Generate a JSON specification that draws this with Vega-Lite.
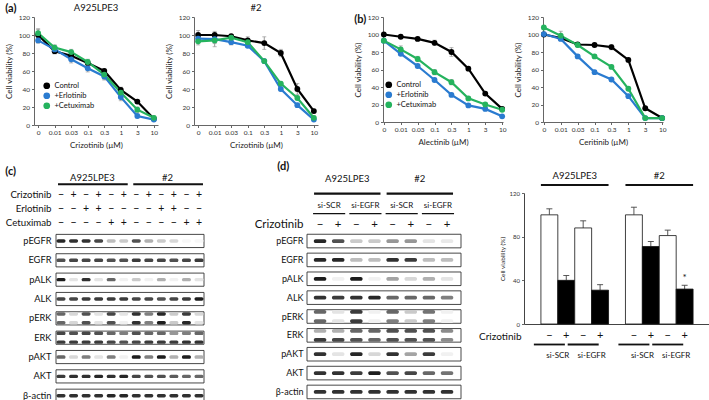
{
  "$schema": "https://vega.github.io/schema/vega-lite/v6.json",
  "padding": {"left": 4, "top": 2, "right": 0, "bottom": 0},
  "config": {
    "font": "Lato",
    "view": {"stroke": null},
    "axis": {"grid": false, "minExtent": 0, "domainColor": "#666", "tickColor": "#666", "labelColor": "#333", "titleColor": "#222", "titleFontWeight": "normal", "labelFontSize": 6.5, "titleFontSize": 8, "tickSize": 2.5, "labelPadding": 2, "titlePadding": 5},
    "title": {"fontWeight": "normal", "fontSize": 9.5, "color": "#111"},
    "legend": {"labelFontSize": 7.5, "labelColor": "#111"}
  },
  "datasets": {
    "a1": [
      {"dose":"0","series":"Control","value":100,"err":6},{"dose":"0.01","series":"Control","value":82,"err":3},{"dose":"0.03","series":"Control","value":77,"err":3},{"dose":"0.1","series":"Control","value":69,"err":3},{"dose":"0.3","series":"Control","value":60,"err":2},{"dose":"1","series":"Control","value":39,"err":2},{"dose":"3","series":"Control","value":26,"err":2},{"dose":"10","series":"Control","value":7,"err":2},
      {"dose":"0","series":"+Erlotinib","value":94,"err":3},{"dose":"0.01","series":"+Erlotinib","value":84,"err":3},{"dose":"0.03","series":"+Erlotinib","value":73,"err":4},{"dose":"0.1","series":"+Erlotinib","value":63,"err":4},{"dose":"0.3","series":"+Erlotinib","value":54,"err":3},{"dose":"1","series":"+Erlotinib","value":31,"err":4},{"dose":"3","series":"+Erlotinib","value":10,"err":2},{"dose":"10","series":"+Erlotinib","value":6,"err":1},
      {"dose":"0","series":"+Cetuximab","value":102,"err":5},{"dose":"0.01","series":"+Cetuximab","value":86,"err":3},{"dose":"0.03","series":"+Cetuximab","value":81,"err":3},{"dose":"0.1","series":"+Cetuximab","value":70,"err":3},{"dose":"0.3","series":"+Cetuximab","value":56,"err":6},{"dose":"1","series":"+Cetuximab","value":36,"err":6},{"dose":"3","series":"+Cetuximab","value":17,"err":3},{"dose":"10","series":"+Cetuximab","value":8,"err":2}
    ],
    "a2": [
      {"dose":"0","series":"Control","value":100,"err":5},{"dose":"0.01","series":"Control","value":100,"err":4},{"dose":"0.03","series":"Control","value":98.6,"err":2},{"dose":"0.1","series":"Control","value":94,"err":4},{"dose":"0.3","series":"Control","value":91,"err":7},{"dose":"1","series":"Control","value":80,"err":4},{"dose":"3","series":"Control","value":40,"err":6},{"dose":"10","series":"Control","value":15.5,"err":2},
      {"dose":"0","series":"+Erlotinib","value":96,"err":3},{"dose":"0.01","series":"+Erlotinib","value":95.5,"err":5},{"dose":"0.03","series":"+Erlotinib","value":92,"err":3},{"dose":"0.1","series":"+Erlotinib","value":88,"err":2},{"dose":"0.3","series":"+Erlotinib","value":71,"err":2},{"dose":"1","series":"+Erlotinib","value":40,"err":2},{"dose":"3","series":"+Erlotinib","value":22,"err":2},{"dose":"10","series":"+Erlotinib","value":6,"err":1},
      {"dose":"0","series":"+Cetuximab","value":93,"err":4},{"dose":"0.01","series":"+Cetuximab","value":94,"err":7},{"dose":"0.03","series":"+Cetuximab","value":97,"err":2},{"dose":"0.1","series":"+Cetuximab","value":92,"err":3},{"dose":"0.3","series":"+Cetuximab","value":71,"err":2},{"dose":"1","series":"+Cetuximab","value":46,"err":2},{"dose":"3","series":"+Cetuximab","value":30,"err":2},{"dose":"10","series":"+Cetuximab","value":8,"err":2}
    ],
    "b1": [
      {"dose":"0","series":"Control","value":100,"err":2},{"dose":"0.01","series":"Control","value":97.4,"err":2},{"dose":"0.03","series":"Control","value":95,"err":2},{"dose":"0.1","series":"Control","value":90.5,"err":3},{"dose":"0.3","series":"Control","value":80,"err":5},{"dose":"1","series":"Control","value":61,"err":2},{"dose":"3","series":"Control","value":32.5,"err":2},{"dose":"10","series":"Control","value":15,"err":2},
      {"dose":"0","series":"+Erlotinib","value":93,"err":2},{"dose":"0.01","series":"+Erlotinib","value":78,"err":2},{"dose":"0.03","series":"+Erlotinib","value":64,"err":2},{"dose":"0.1","series":"+Erlotinib","value":48,"err":2},{"dose":"0.3","series":"+Erlotinib","value":31,"err":2},{"dose":"1","series":"+Erlotinib","value":19,"err":2},{"dose":"3","series":"+Erlotinib","value":15,"err":2},{"dose":"10","series":"+Erlotinib","value":6.5,"err":1},
      {"dose":"0","series":"+Cetuximab","value":93,"err":2},{"dose":"0.01","series":"+Cetuximab","value":83,"err":4},{"dose":"0.03","series":"+Cetuximab","value":72,"err":3},{"dose":"0.1","series":"+Cetuximab","value":57,"err":3},{"dose":"0.3","series":"+Cetuximab","value":45.5,"err":3},{"dose":"1","series":"+Cetuximab","value":27,"err":2},{"dose":"3","series":"+Cetuximab","value":20,"err":2},{"dose":"10","series":"+Cetuximab","value":14,"err":2}
    ],
    "b2": [
      {"dose":"0","series":"Control","value":100,"err":2},{"dose":"0.01","series":"Control","value":96,"err":2},{"dose":"0.03","series":"Control","value":88.6,"err":2},{"dose":"0.1","series":"Control","value":88,"err":2},{"dose":"0.3","series":"Control","value":85.6,"err":3},{"dose":"1","series":"Control","value":71,"err":2},{"dose":"3","series":"Control","value":15.7,"err":2},{"dose":"10","series":"Control","value":4.5,"err":1},
      {"dose":"0","series":"+Erlotinib","value":100.5,"err":2},{"dose":"0.01","series":"+Erlotinib","value":95,"err":2},{"dose":"0.03","series":"+Erlotinib","value":75,"err":2},{"dose":"0.1","series":"+Erlotinib","value":57,"err":2},{"dose":"0.3","series":"+Erlotinib","value":48.6,"err":2},{"dose":"1","series":"+Erlotinib","value":29.5,"err":2},{"dose":"3","series":"+Erlotinib","value":4.5,"err":1},{"dose":"10","series":"+Erlotinib","value":4.5,"err":1},
      {"dose":"0","series":"+Cetuximab","value":108,"err":2},{"dose":"0.01","series":"+Cetuximab","value":98.7,"err":5},{"dose":"0.03","series":"+Cetuximab","value":88,"err":2},{"dose":"0.1","series":"+Cetuximab","value":75,"err":2},{"dose":"0.3","series":"+Cetuximab","value":63,"err":2},{"dose":"1","series":"+Cetuximab","value":38,"err":2},{"dose":"3","series":"+Cetuximab","value":4.5,"err":1},{"dose":"10","series":"+Cetuximab","value":4.5,"err":1}
    ],
    "lanesC": [
      {"lane":1,"cell":"A925LPE3","Crizotinib":"−","Erlotinib":"−","Cetuximab":"−"},
      {"lane":2,"cell":"A925LPE3","Crizotinib":"+","Erlotinib":"−","Cetuximab":"−"},
      {"lane":3,"cell":"A925LPE3","Crizotinib":"−","Erlotinib":"+","Cetuximab":"−"},
      {"lane":4,"cell":"A925LPE3","Crizotinib":"+","Erlotinib":"+","Cetuximab":"−"},
      {"lane":5,"cell":"A925LPE3","Crizotinib":"−","Erlotinib":"−","Cetuximab":"+"},
      {"lane":6,"cell":"A925LPE3","Crizotinib":"+","Erlotinib":"−","Cetuximab":"+"},
      {"lane":7,"cell":"#2","Crizotinib":"−","Erlotinib":"−","Cetuximab":"−"},
      {"lane":8,"cell":"#2","Crizotinib":"+","Erlotinib":"−","Cetuximab":"−"},
      {"lane":9,"cell":"#2","Crizotinib":"−","Erlotinib":"+","Cetuximab":"−"},
      {"lane":10,"cell":"#2","Crizotinib":"+","Erlotinib":"+","Cetuximab":"−"},
      {"lane":11,"cell":"#2","Crizotinib":"−","Erlotinib":"−","Cetuximab":"+"},
      {"lane":12,"cell":"#2","Crizotinib":"+","Erlotinib":"−","Cetuximab":"+"}
    ],
    "lanesD": [
      {"lane":1,"cell":"A925LPE3","si":"si-SCR","Crizotinib":"−"},
      {"lane":2,"cell":"A925LPE3","si":"si-SCR","Crizotinib":"+"},
      {"lane":3,"cell":"A925LPE3","si":"si-EGFR","Crizotinib":"−"},
      {"lane":4,"cell":"A925LPE3","si":"si-EGFR","Crizotinib":"+"},
      {"lane":5,"cell":"#2","si":"si-SCR","Crizotinib":"−"},
      {"lane":6,"cell":"#2","si":"si-SCR","Crizotinib":"+"},
      {"lane":7,"cell":"#2","si":"si-EGFR","Crizotinib":"−"},
      {"lane":8,"cell":"#2","si":"si-EGFR","Crizotinib":"+"}
    ],
    "bars": [
      {"cell":"A925LPE3","si":"si-SCR","crizotinib":"−","cond":"SCR−","value":100,"hi":105.5,"sig":""},
      {"cell":"A925LPE3","si":"si-SCR","crizotinib":"+","cond":"SCR+","value":40,"hi":44.5,"sig":""},
      {"cell":"A925LPE3","si":"si-EGFR","crizotinib":"−","cond":"EGFR−","value":88,"hi":94.5,"sig":""},
      {"cell":"A925LPE3","si":"si-EGFR","crizotinib":"+","cond":"EGFR+","value":31,"hi":36,"sig":""},
      {"cell":"#2","si":"si-SCR","crizotinib":"−","cond":"SCR−","value":100,"hi":107,"sig":""},
      {"cell":"#2","si":"si-SCR","crizotinib":"+","cond":"SCR+","value":71,"hi":75.5,"sig":""},
      {"cell":"#2","si":"si-EGFR","crizotinib":"−","cond":"EGFR−","value":81,"hi":86,"sig":""},
      {"cell":"#2","si":"si-EGFR","crizotinib":"+","cond":"EGFR+","value":32,"hi":35.5,"sig":"*"}
    ],
    "blotC": [
      {"lane":1,"protein":"pEGFR","band":"m","level":0.9},{"lane":2,"protein":"pEGFR","band":"m","level":0.85},{"lane":3,"protein":"pEGFR","band":"m","level":0.85},{"lane":4,"protein":"pEGFR","band":"m","level":0.75},{"lane":5,"protein":"pEGFR","band":"m","level":0.25},{"lane":6,"protein":"pEGFR","band":"m","level":0.2},{"lane":7,"protein":"pEGFR","band":"m","level":0.7},{"lane":8,"protein":"pEGFR","band":"m","level":0.3},{"lane":9,"protein":"pEGFR","band":"m","level":0.2},{"lane":10,"protein":"pEGFR","band":"m","level":0.15},{"lane":11,"protein":"pEGFR","band":"m","level":0.03},{"lane":12,"protein":"pEGFR","band":"m","level":0.03},
      {"lane":1,"protein":"EGFR","band":"m","level":0.7},{"lane":2,"protein":"EGFR","band":"m","level":0.75},{"lane":3,"protein":"EGFR","band":"m","level":0.75},{"lane":4,"protein":"EGFR","band":"m","level":0.75},{"lane":5,"protein":"EGFR","band":"m","level":0.7},{"lane":6,"protein":"EGFR","band":"m","level":0.7},{"lane":7,"protein":"EGFR","band":"m","level":0.8},{"lane":8,"protein":"EGFR","band":"m","level":0.75},{"lane":9,"protein":"EGFR","band":"m","level":0.75},{"lane":10,"protein":"EGFR","band":"m","level":0.7},{"lane":11,"protein":"EGFR","band":"m","level":0.75},{"lane":12,"protein":"EGFR","band":"m","level":0.8},
      {"lane":1,"protein":"pALK","band":"m","level":0.95},{"lane":2,"protein":"pALK","band":"m","level":0.1},{"lane":3,"protein":"pALK","band":"m","level":0.85},{"lane":4,"protein":"pALK","band":"m","level":0.1},{"lane":5,"protein":"pALK","band":"m","level":0.6},{"lane":6,"protein":"pALK","band":"m","level":0.05},{"lane":7,"protein":"pALK","band":"m","level":0.2},{"lane":8,"protein":"pALK","band":"m","level":0.05},{"lane":9,"protein":"pALK","band":"m","level":0.3},{"lane":10,"protein":"pALK","band":"m","level":0.05},{"lane":11,"protein":"pALK","band":"m","level":0.3},{"lane":12,"protein":"pALK","band":"m","level":0.1},
      {"lane":1,"protein":"ALK","band":"m","level":0.75},{"lane":2,"protein":"ALK","band":"m","level":0.75},{"lane":3,"protein":"ALK","band":"m","level":0.8},{"lane":4,"protein":"ALK","band":"m","level":0.8},{"lane":5,"protein":"ALK","band":"m","level":0.8},{"lane":6,"protein":"ALK","band":"m","level":0.8},{"lane":7,"protein":"ALK","band":"m","level":0.75},{"lane":8,"protein":"ALK","band":"m","level":0.75},{"lane":9,"protein":"ALK","band":"m","level":0.7},{"lane":10,"protein":"ALK","band":"m","level":0.75},{"lane":11,"protein":"ALK","band":"m","level":0.8},{"lane":12,"protein":"ALK","band":"m","level":0.95},
      {"lane":1,"protein":"pERK","band":"u","level":0.6},{"lane":2,"protein":"pERK","band":"u","level":0.15},{"lane":3,"protein":"pERK","band":"u","level":0.7},{"lane":4,"protein":"pERK","band":"u","level":0.1},{"lane":5,"protein":"pERK","band":"u","level":0.75},{"lane":6,"protein":"pERK","band":"u","level":0.1},{"lane":7,"protein":"pERK","band":"u","level":0.85},{"lane":8,"protein":"pERK","band":"u","level":0.5},{"lane":9,"protein":"pERK","band":"u","level":0.9},{"lane":10,"protein":"pERK","band":"u","level":0.2},{"lane":11,"protein":"pERK","band":"u","level":0.8},{"lane":12,"protein":"pERK","band":"u","level":0.15},
      {"lane":1,"protein":"pERK","band":"l","level":0.6},{"lane":2,"protein":"pERK","band":"l","level":0.15},{"lane":3,"protein":"pERK","band":"l","level":0.7},{"lane":4,"protein":"pERK","band":"l","level":0.1},{"lane":5,"protein":"pERK","band":"l","level":0.7},{"lane":6,"protein":"pERK","band":"l","level":0.05},{"lane":7,"protein":"pERK","band":"l","level":0.85},{"lane":8,"protein":"pERK","band":"l","level":0.5},{"lane":9,"protein":"pERK","band":"l","level":0.95},{"lane":10,"protein":"pERK","band":"l","level":0.2},{"lane":11,"protein":"pERK","band":"l","level":0.9},{"lane":12,"protein":"pERK","band":"l","level":0.1},
      {"lane":1,"protein":"ERK","band":"u","level":0.75},{"lane":2,"protein":"ERK","band":"u","level":0.7},{"lane":3,"protein":"ERK","band":"u","level":0.75},{"lane":4,"protein":"ERK","band":"u","level":0.7},{"lane":5,"protein":"ERK","band":"u","level":0.6},{"lane":6,"protein":"ERK","band":"u","level":0.5},{"lane":7,"protein":"ERK","band":"u","level":0.7},{"lane":8,"protein":"ERK","band":"u","level":0.6},{"lane":9,"protein":"ERK","band":"u","level":0.6},{"lane":10,"protein":"ERK","band":"u","level":0.4},{"lane":11,"protein":"ERK","band":"u","level":0.5},{"lane":12,"protein":"ERK","band":"u","level":0.6},
      {"lane":1,"protein":"ERK","band":"l","level":0.8},{"lane":2,"protein":"ERK","band":"l","level":0.8},{"lane":3,"protein":"ERK","band":"l","level":0.8},{"lane":4,"protein":"ERK","band":"l","level":0.8},{"lane":5,"protein":"ERK","band":"l","level":0.75},{"lane":6,"protein":"ERK","band":"l","level":0.7},{"lane":7,"protein":"ERK","band":"l","level":0.75},{"lane":8,"protein":"ERK","band":"l","level":0.8},{"lane":9,"protein":"ERK","band":"l","level":0.8},{"lane":10,"protein":"ERK","band":"l","level":0.8},{"lane":11,"protein":"ERK","band":"l","level":0.85},{"lane":12,"protein":"ERK","band":"l","level":0.85},
      {"lane":1,"protein":"pAKT","band":"m","level":0.6},{"lane":2,"protein":"pAKT","band":"m","level":0.15},{"lane":3,"protein":"pAKT","band":"m","level":0.5},{"lane":4,"protein":"pAKT","band":"m","level":0.1},{"lane":5,"protein":"pAKT","band":"m","level":0.5},{"lane":6,"protein":"pAKT","band":"m","level":0.05},{"lane":7,"protein":"pAKT","band":"m","level":0.95},{"lane":8,"protein":"pAKT","band":"m","level":0.5},{"lane":9,"protein":"pAKT","band":"m","level":0.95},{"lane":10,"protein":"pAKT","band":"m","level":0.3},{"lane":11,"protein":"pAKT","band":"m","level":0.95},{"lane":12,"protein":"pAKT","band":"m","level":0.3},
      {"lane":1,"protein":"AKT","band":"m","level":0.8},{"lane":2,"protein":"AKT","band":"m","level":0.85},{"lane":3,"protein":"AKT","band":"m","level":0.85},{"lane":4,"protein":"AKT","band":"m","level":0.9},{"lane":5,"protein":"AKT","band":"m","level":0.85},{"lane":6,"protein":"AKT","band":"m","level":0.9},{"lane":7,"protein":"AKT","band":"m","level":0.75},{"lane":8,"protein":"AKT","band":"m","level":0.7},{"lane":9,"protein":"AKT","band":"m","level":0.7},{"lane":10,"protein":"AKT","band":"m","level":0.65},{"lane":11,"protein":"AKT","band":"m","level":0.6},{"lane":12,"protein":"AKT","band":"m","level":0.6},
      {"lane":1,"protein":"β-actin","band":"m","level":0.85},{"lane":2,"protein":"β-actin","band":"m","level":0.85},{"lane":3,"protein":"β-actin","band":"m","level":0.85},{"lane":4,"protein":"β-actin","band":"m","level":0.85},{"lane":5,"protein":"β-actin","band":"m","level":0.9},{"lane":6,"protein":"β-actin","band":"m","level":0.9},{"lane":7,"protein":"β-actin","band":"m","level":0.85},{"lane":8,"protein":"β-actin","band":"m","level":0.85},{"lane":9,"protein":"β-actin","band":"m","level":0.85},{"lane":10,"protein":"β-actin","band":"m","level":0.85},{"lane":11,"protein":"β-actin","band":"m","level":0.85},{"lane":12,"protein":"β-actin","band":"m","level":0.85}
    ],
    "blotD": [
      {"lane":1,"protein":"pEGFR","band":"m","level":0.9},{"lane":2,"protein":"pEGFR","band":"m","level":0.7},{"lane":3,"protein":"pEGFR","band":"m","level":0.2},{"lane":4,"protein":"pEGFR","band":"m","level":0.2},{"lane":5,"protein":"pEGFR","band":"m","level":0.4},{"lane":6,"protein":"pEGFR","band":"m","level":0.4},{"lane":7,"protein":"pEGFR","band":"m","level":0.1},{"lane":8,"protein":"pEGFR","band":"m","level":0.08},
      {"lane":1,"protein":"EGFR","band":"m","level":0.9},{"lane":2,"protein":"EGFR","band":"m","level":0.9},{"lane":3,"protein":"EGFR","band":"m","level":0.25},{"lane":4,"protein":"EGFR","band":"m","level":0.25},{"lane":5,"protein":"EGFR","band":"m","level":0.85},{"lane":6,"protein":"EGFR","band":"m","level":0.8},{"lane":7,"protein":"EGFR","band":"m","level":0.25},{"lane":8,"protein":"EGFR","band":"m","level":0.25},
      {"lane":1,"protein":"pALK","band":"m","level":0.95},{"lane":2,"protein":"pALK","band":"m","level":0.05},{"lane":3,"protein":"pALK","band":"m","level":0.95},{"lane":4,"protein":"pALK","band":"m","level":0.05},{"lane":5,"protein":"pALK","band":"m","level":0.35},{"lane":6,"protein":"pALK","band":"m","level":0.15},{"lane":7,"protein":"pALK","band":"m","level":0.3},{"lane":8,"protein":"pALK","band":"m","level":0.1},
      {"lane":1,"protein":"ALK","band":"m","level":0.85},{"lane":2,"protein":"ALK","band":"m","level":0.8},{"lane":3,"protein":"ALK","band":"m","level":0.85},{"lane":4,"protein":"ALK","band":"m","level":0.9},{"lane":5,"protein":"ALK","band":"m","level":0.6},{"lane":6,"protein":"ALK","band":"m","level":0.6},{"lane":7,"protein":"ALK","band":"m","level":0.6},{"lane":8,"protein":"ALK","band":"m","level":0.5},
      {"lane":1,"protein":"pERK","band":"u","level":0.6},{"lane":2,"protein":"pERK","band":"u","level":0.1},{"lane":3,"protein":"pERK","band":"u","level":0.8},{"lane":4,"protein":"pERK","band":"u","level":0.05},{"lane":5,"protein":"pERK","band":"u","level":0.6},{"lane":6,"protein":"pERK","band":"u","level":0.2},{"lane":7,"protein":"pERK","band":"u","level":0.55},{"lane":8,"protein":"pERK","band":"u","level":0.05},
      {"lane":1,"protein":"pERK","band":"l","level":0.6},{"lane":2,"protein":"pERK","band":"l","level":0.1},{"lane":3,"protein":"pERK","band":"l","level":0.8},{"lane":4,"protein":"pERK","band":"l","level":0.05},{"lane":5,"protein":"pERK","band":"l","level":0.5},{"lane":6,"protein":"pERK","band":"l","level":0.2},{"lane":7,"protein":"pERK","band":"l","level":0.5},{"lane":8,"protein":"pERK","band":"l","level":0.05},
      {"lane":1,"protein":"ERK","band":"u","level":0.3},{"lane":2,"protein":"ERK","band":"u","level":0.3},{"lane":3,"protein":"ERK","band":"u","level":0.6},{"lane":4,"protein":"ERK","band":"u","level":0.6},{"lane":5,"protein":"ERK","band":"u","level":0.7},{"lane":6,"protein":"ERK","band":"u","level":0.7},{"lane":7,"protein":"ERK","band":"u","level":0.7},{"lane":8,"protein":"ERK","band":"u","level":0.45},
      {"lane":1,"protein":"ERK","band":"l","level":0.8},{"lane":2,"protein":"ERK","band":"l","level":0.75},{"lane":3,"protein":"ERK","band":"l","level":0.7},{"lane":4,"protein":"ERK","band":"l","level":0.6},{"lane":5,"protein":"ERK","band":"l","level":0.7},{"lane":6,"protein":"ERK","band":"l","level":0.7},{"lane":7,"protein":"ERK","band":"l","level":0.7},{"lane":8,"protein":"ERK","band":"l","level":0.45},
      {"lane":1,"protein":"pAKT","band":"m","level":0.85},{"lane":2,"protein":"pAKT","band":"m","level":0.1},{"lane":3,"protein":"pAKT","band":"m","level":0.9},{"lane":4,"protein":"pAKT","band":"m","level":0.15},{"lane":5,"protein":"pAKT","band":"m","level":0.85},{"lane":6,"protein":"pAKT","band":"m","level":0.35},{"lane":7,"protein":"pAKT","band":"m","level":0.8},{"lane":8,"protein":"pAKT","band":"m","level":0.05},
      {"lane":1,"protein":"AKT","band":"m","level":0.85},{"lane":2,"protein":"AKT","band":"m","level":0.85},{"lane":3,"protein":"AKT","band":"m","level":0.8},{"lane":4,"protein":"AKT","band":"m","level":0.95},{"lane":5,"protein":"AKT","band":"m","level":0.7},{"lane":6,"protein":"AKT","band":"m","level":0.75},{"lane":7,"protein":"AKT","band":"m","level":0.6},{"lane":8,"protein":"AKT","band":"m","level":0.55},
      {"lane":1,"protein":"β-actin","band":"m","level":0.85},{"lane":2,"protein":"β-actin","band":"m","level":0.85},{"lane":3,"protein":"β-actin","band":"m","level":0.85},{"lane":4,"protein":"β-actin","band":"m","level":0.85},{"lane":5,"protein":"β-actin","band":"m","level":0.85},{"lane":6,"protein":"β-actin","band":"m","level":0.85},{"lane":7,"protein":"β-actin","band":"m","level":0.85},{"lane":8,"protein":"β-actin","band":"m","level":0.85}
    ]
  },
  "resolve": {"scale": {"color": "independent", "fill": "independent", "xOffset": "independent", "yOffset": "independent"}, "legend": {"color": "independent"}},
  "spacing": 12,
  "vconcat": [
    {
      "resolve": {"scale": {"color": "independent", "fill": "independent"}, "legend": {"color": "independent"}},
      "spacing": 0,
      "hconcat": [
        {"width": 1, "height": 1, "data": {"values": [{}]}, "mark": {"type": "text", "text": ""}},
        {
          "resolve": {"scale": {"color": "independent", "fill": "independent"}, "legend": {"color": "independent"}},
          "spacing": 35,
          "hconcat": [
            {
              "title": {"text": "(a)", "anchor": "start", "fontSize": 11, "fontWeight": "bold", "offset": -11},
              "resolve": {"scale": {"color": "independent"}, "legend": {"color": "independent"}},
              "spacing": 6,
              "hconcat": [
                {
                  "width": 124, "height": 108,
                  "title": {"text": "A925LPE3", "offset": 2},
                  "data": {"name": "a1"},
                  "encoding": {
                    "x": {"field": "dose", "type": "ordinal", "scale": {"type": "point", "domain": ["0","0.01","0.03","0.1","0.3","1","3","10"], "padding": 0.25}, "axis": {"labelAngle": 0, "title": "Crizotinib (µM)"}},
                    "y": {"field": "value", "type": "quantitative", "scale": {"domain": [0, 120]}, "axis": {"values": [0,20,40,60,80,100,120], "title": "Cell viability (%)"}}
                  },
                  "layer": [
                    {"mark": {"type": "errorbar", "ticks": {"size": 4}, "color": "#999"}, "encoding": {"yError": {"field": "err"}, "detail": {"field": "series"}}},
                    {"mark": {"type": "line", "strokeWidth": 2.2, "point": {"filled": true, "size": 34}}, "encoding": {"color": {"field": "series", "type": "nominal", "scale": {"domain": ["Control","+Erlotinib","+Cetuximab"], "range": ["#000000","#2a7bd0","#25b35e"]}, "legend": {"title": null, "orient": "none", "legendX": 9, "legendY": 65, "symbolType": "circle", "symbolSize": 45, "symbolStrokeWidth": 0, "rowPadding": 1, "labelOffset": 4, "encode": {"symbols": {"update": {"fill": {"signal": "datum.value == 'Control' ? '#000000' : datum.value == '+Erlotinib' ? '#2a7bd0' : '#25b35e'"}, "opacity": {"value": 1}}}}}}}}
                  ]
                },
                {
                  "width": 124, "height": 108,
                  "title": {"text": "#2", "offset": 2},
                  "data": {"name": "a2"},
                  "encoding": {
                    "x": {"field": "dose", "type": "ordinal", "scale": {"type": "point", "domain": ["0","0.01","0.03","0.1","0.3","1","3","10"], "padding": 0.25}, "axis": {"labelAngle": 0, "title": "Crizotinib (µM)"}},
                    "y": {"field": "value", "type": "quantitative", "scale": {"domain": [0, 120]}, "axis": {"values": [0,20,40,60,80,100,120], "title": "Cell viability (%)"}}
                  },
                  "layer": [
                    {"mark": {"type": "errorbar", "ticks": {"size": 4}, "color": "#999"}, "encoding": {"yError": {"field": "err"}, "detail": {"field": "series"}}},
                    {"mark": {"type": "line", "strokeWidth": 2.2, "point": {"filled": true, "size": 34}}, "encoding": {"color": {"field": "series", "type": "nominal", "scale": {"domain": ["Control","+Erlotinib","+Cetuximab"], "range": ["#000000","#2a7bd0","#25b35e"]}, "legend": null}}}
                  ]
                }
              ]
            },
            {
              "title": {"text": "(b)", "anchor": "start", "fontSize": 11, "fontWeight": "bold", "offset": -11},
              "resolve": {"scale": {"color": "independent"}, "legend": {"color": "independent"}},
              "spacing": 7,
              "hconcat": [
                {
                  "width": 120, "height": 105,
                  "data": {"name": "b1"},
                  "encoding": {
                    "x": {"field": "dose", "type": "ordinal", "scale": {"type": "point", "domain": ["0","0.01","0.03","0.1","0.3","1","3","10"], "padding": 0.05}, "axis": {"labelAngle": 0, "title": "Alectinib (µM)"}},
                    "y": {"field": "value", "type": "quantitative", "scale": {"domain": [0, 120]}, "axis": {"values": [0,20,40,60,80,100,120], "title": "Cell viability (%)"}}
                  },
                  "layer": [
                    {"mark": {"type": "errorbar", "ticks": {"size": 4}, "color": "#999"}, "encoding": {"yError": {"field": "err"}, "detail": {"field": "series"}}},
                    {"mark": {"type": "line", "strokeWidth": 2.2, "point": {"filled": true, "size": 34}}, "encoding": {"color": {"field": "series", "type": "nominal", "scale": {"domain": ["Control","+Erlotinib","+Cetuximab"], "range": ["#000000","#2a7bd0","#25b35e"]}, "legend": {"title": null, "orient": "none", "legendX": 2, "legendY": 64, "symbolType": "circle", "symbolSize": 45, "symbolStrokeWidth": 0, "rowPadding": 1, "labelOffset": 4, "encode": {"symbols": {"update": {"fill": {"signal": "datum.value == 'Control' ? '#000000' : datum.value == '+Erlotinib' ? '#2a7bd0' : '#25b35e'"}, "opacity": {"value": 1}}}}}}}}
                  ]
                },
                {
                  "width": 120, "height": 105,
                  "data": {"name": "b2"},
                  "encoding": {
                    "x": {"field": "dose", "type": "ordinal", "scale": {"type": "point", "domain": ["0","0.01","0.03","0.1","0.3","1","3","10"], "padding": 0.05}, "axis": {"labelAngle": 0, "title": "Ceritinib (µM)"}},
                    "y": {"field": "value", "type": "quantitative", "scale": {"domain": [0, 120]}, "axis": {"values": [0,20,40,60,80,100,120], "title": "Cell viability (%)"}}
                  },
                  "layer": [
                    {"mark": {"type": "errorbar", "ticks": {"size": 4}, "color": "#999"}, "encoding": {"yError": {"field": "err"}, "detail": {"field": "series"}}},
                    {"mark": {"type": "line", "strokeWidth": 2.2, "point": {"filled": true, "size": 34}}, "encoding": {"color": {"field": "series", "type": "nominal", "scale": {"domain": ["Control","+Erlotinib","+Cetuximab"], "range": ["#000000","#2a7bd0","#25b35e"]}, "legend": null}}}
                  ]
                }
              ]
            }
          ]
        }
      ]
    },
    {
      "resolve": {"scale": {"color": "independent", "fill": "independent", "xOffset": "independent", "yOffset": "independent"}, "legend": {"color": "independent"}},
      "spacing": 0,
      "hconcat": [
        {"width": 1, "height": 1, "data": {"values": [{}]}, "mark": {"type": "text", "text": ""}},
        {
          "resolve": {"scale": {"color": "independent", "fill": "independent", "xOffset": "independent", "yOffset": "independent"}, "legend": {"color": "independent"}},
          "spacing": 49,
          "hconcat": [
            {
              "title": {"text": "(c)", "anchor": "start", "fontSize": 11, "fontWeight": "bold", "offset": -5},
              "resolve": {"scale": {"color": "independent", "yOffset": "independent"}},
              "spacing": 0,
              "vconcat": [
                {
                  "width": 148, "height": 60.3,
                  "layer": [
                    {
                      "data": {"name": "lanesC"},
                      "transform": [{"fold": ["Crizotinib", "Erlotinib", "Cetuximab"], "as": ["drug", "sign"]}],
                      "mark": {"type": "text", "fontSize": 10.5, "color": "#111"},
                      "encoding": {
                        "x": {"field": "lane", "type": "quantitative", "scale": {"domain": [0.6, 12.4], "nice": false, "zero": false}, "axis": null},
                        "y": {"field": "drug", "type": "nominal", "scale": {"domain": ["cell", "Crizotinib", "Erlotinib", "Cetuximab"], "paddingInner": 0, "paddingOuter": 0.2}, "axis": {"title": null, "domain": false, "ticks": false, "labelFontSize": 9.7, "labelPadding": 5, "labelColor": "#111", "labelExpr": "datum.value == 'cell' ? '' : datum.value"}},
                        "text": {"field": "sign"}
                      }
                    },
                    {
                      "data": {"name": "lanesC"},
                      "mark": {"type": "text", "fontSize": 9.5, "dy": -3.6, "color": "#111"},
                      "encoding": {
                        "x": {"aggregate": "mean", "field": "lane", "type": "quantitative"},
                        "y": {"datum": "cell", "type": "nominal"},
                        "text": {"field": "cell"}
                      }
                    },
                    {
                      "data": {"name": "lanesC"},
                      "mark": {"type": "rule", "strokeWidth": 2, "color": "#111", "yOffset": 2.7, "xOffset": -3, "x2Offset": 4},
                      "encoding": {
                        "x": {"aggregate": "min", "field": "lane", "type": "quantitative"},
                        "x2": {"aggregate": "max", "field": "lane"},
                        "y": {"datum": "cell", "type": "nominal"},
                        "detail": {"field": "cell"}
                      }
                    }
                  ]
                },
                {
                  "width": 148, "height": 168.7,
                  "data": {"name": "blotC"},
                  "encoding": {
                    "y": {"field": "protein", "type": "nominal", "scale": {"domain": ["pEGFR","EGFR","pALK","ALK","pERK","ERK","pAKT","AKT","β-actin"], "paddingInner": 0.32, "paddingOuter": 0.02}, "axis": {"title": null, "domain": false, "ticks": false, "labelFontSize": 9.3, "labelPadding": 5, "labelColor": "#111"}}
                  },
                  "layer": [
                    {
                      "transform": [{"aggregate": [{"op": "count", "as": "n"}], "groupby": ["protein"]}],
                      "mark": {"type": "rect", "fill": "white", "stroke": "#333", "strokeWidth": 0.9},
                      "encoding": {"x": {"value": 0}, "x2": {"value": "width"}}
                    },
                    {
                      "mark": {"type": "tick", "orient": "horizontal", "size": 9, "thickness": 3.4, "cornerRadius": 1.6, "opacity": 1},
                      "encoding": {
                        "x": {"field": "lane", "type": "quantitative", "scale": {"domain": [0.6, 12.4], "nice": false, "zero": false}, "axis": null},
                        "yOffset": {"field": "band", "type": "nominal", "scale": {"domain": ["u", "m", "l"]}},
                        "color": {"field": "level", "type": "quantitative", "scale": {"domain": [0, 1], "range": ["#ffffff", "#141414"]}, "legend": null}
                      }
                    }
                  ]
                }
              ]
            },
            {
              "resolve": {"scale": {"color": "independent", "fill": "independent", "xOffset": "independent", "yOffset": "independent"}},
              "spacing": 16,
              "hconcat": [
                {
                  "title": {"text": "(d)", "anchor": "start", "fontSize": 11, "fontWeight": "bold", "offset": 0, "dx": 23},
                  "resolve": {"scale": {"color": "independent", "yOffset": "independent"}},
                  "spacing": 0,
                  "vconcat": [
                    {
                      "width": 154, "height": 60,
                      "data": {"name": "lanesD"},
                      "layer": [
                        {
                          "mark": {"type": "text", "fontSize": 11.5, "dy": 2.7, "color": "#111"},
                          "encoding": {
                            "x": {"field": "lane", "type": "quantitative", "scale": {"domain": [0.28, 8.77], "nice": false, "zero": false}, "axis": null},
                            "y": {"datum": "Crizotinib", "type": "nominal", "scale": {"domain": ["cell", "si", "Crizotinib"], "paddingInner": 0, "paddingOuter": 0}, "axis": {"title": null, "domain": false, "ticks": false, "labelFontSize": 11.5, "labelPadding": 4, "labelColor": "#111", "labelBaseline": "middle", "labelOffset": 2.7, "labelExpr": "datum.value == 'Crizotinib' ? datum.value : ''"}},
                            "text": {"field": "Crizotinib"}
                          }
                        },
                        {
                          "mark": {"type": "text", "fontSize": 9.5, "dy": -3, "color": "#111"},
                          "encoding": {
                            "x": {"aggregate": "mean", "field": "lane", "type": "quantitative"},
                            "y": {"datum": "cell", "type": "nominal"},
                            "text": {"field": "cell"}
                          }
                        },
                        {
                          "mark": {"type": "rule", "strokeWidth": 2.2, "color": "#111", "yOffset": 11.7, "xOffset": -6, "x2Offset": 6},
                          "encoding": {
                            "x": {"aggregate": "min", "field": "lane", "type": "quantitative"},
                            "x2": {"aggregate": "max", "field": "lane"},
                            "y": {"datum": "cell", "type": "nominal"},
                            "detail": {"field": "cell"}
                          }
                        },
                        {
                          "mark": {"type": "text", "fontSize": 8, "dy": 4, "color": "#111"},
                          "encoding": {
                            "x": {"aggregate": "mean", "field": "lane", "type": "quantitative"},
                            "y": {"datum": "si", "type": "nominal"},
                            "text": {"field": "si"},
                            "detail": {"field": "cell"}
                          }
                        },
                        {
                          "mark": {"type": "rule", "strokeWidth": 1.3, "color": "#111", "yOffset": 11.7, "xOffset": -7, "x2Offset": 7},
                          "encoding": {
                            "x": {"aggregate": "min", "field": "lane", "type": "quantitative"},
                            "x2": {"aggregate": "max", "field": "lane"},
                            "y": {"datum": "si", "type": "nominal"},
                            "detail": [{"field": "cell"}, {"field": "si"}]
                          }
                        }
                      ]
                    },
                    {
                      "width": 154, "height": 169,
                      "data": {"name": "blotD"},
                      "encoding": {
                        "y": {"field": "protein", "type": "nominal", "scale": {"domain": ["pEGFR","EGFR","pALK","ALK","pERK","ERK","pAKT","AKT","β-actin"], "paddingInner": 0.28, "paddingOuter": 0.12}, "axis": {"title": null, "domain": false, "ticks": false, "labelFontSize": 9, "labelPadding": 4, "labelColor": "#111"}}
                      },
                      "layer": [
                        {
                          "transform": [{"aggregate": [{"op": "count", "as": "n"}], "groupby": ["protein"]}],
                          "mark": {"type": "rect", "fill": "white", "stroke": "#333", "strokeWidth": 0.9},
                          "encoding": {"x": {"value": 0}, "x2": {"value": "width"}}
                        },
                        {
                          "mark": {"type": "tick", "orient": "horizontal", "size": 12.5, "thickness": 3.8, "cornerRadius": 1.8, "opacity": 1},
                          "encoding": {
                            "x": {"field": "lane", "type": "quantitative", "scale": {"domain": [0.28, 8.77], "nice": false, "zero": false}, "axis": null},
                            "yOffset": {"field": "band", "type": "nominal", "scale": {"domain": ["u", "m", "l"]}},
                            "color": {"field": "level", "type": "quantitative", "scale": {"domain": [0, 1], "range": ["#ffffff", "#141414"]}, "legend": null}
                          }
                        }
                      ]
                    }
                  ]
                },
                {
                  "resolve": {"scale": {"xOffset": "independent", "fill": "independent"}},
                  "spacing": 2,
                  "vconcat": [
                    {
                      "width": 186, "height": 16,
                      "data": {"name": "bars"},
                      "transform": [{"aggregate": [{"op": "count", "as": "n"}], "groupby": ["cell"]}],
                      "encoding": {
                        "x": {"field": "cell", "type": "nominal", "scale": {"domain": ["A925LPE3", "#2"], "paddingInner": 0.2, "paddingOuter": 0.2}, "axis": null},
                        "y": {"datum": "hdr", "type": "nominal", "scale": {"domain": ["hdr"], "paddingInner": 0, "paddingOuter": 0}, "axis": null}
                      },
                      "layer": [
                        {"mark": {"type": "text", "fontSize": 9.5, "dy": -4, "color": "#111"}, "encoding": {"text": {"field": "cell"}}},
                        {"mark": {"type": "rect", "fill": "#111", "height": 2.2, "yOffset": 5}}
                      ]
                    },
                    {
                      "width": 186, "height": 131,
                      "data": {"name": "bars"},
                      "encoding": {
                        "x": {"field": "cell", "type": "nominal", "scale": {"domain": ["A925LPE3", "#2"], "paddingInner": 0.2, "paddingOuter": 0.2}, "axis": {"title": null, "labels": false, "ticks": false, "domainColor": "#444"}},
                        "xOffset": {"field": "cond", "type": "nominal", "scale": {"domain": ["SCR−", "SCR+", "EGFR−", "EGFR+"], "paddingInner": 0, "paddingOuter": 0}}
                      },
                      "layer": [
                        {"mark": {"type": "rule", "color": "#444", "strokeWidth": 0.9}, "encoding": {"y": {"field": "value", "type": "quantitative", "scale": {"domain": [0, 120]}, "axis": {"values": [0,20,40,60,80,100,120], "title": "Cell viability (%)", "labelFontSize": 6, "titleFontSize": 6.5, "titlePadding": 4, "domainColor": "#444"}}, "y2": {"field": "hi"}}},
                        {"mark": {"type": "tick", "orient": "horizontal", "size": 6, "thickness": 0.9, "color": "#444", "opacity": 1}, "encoding": {"y": {"field": "hi", "type": "quantitative"}}},
                        {"mark": {"type": "bar", "stroke": "#111", "strokeWidth": 0.8}, "encoding": {"y": {"field": "value", "type": "quantitative"}, "fill": {"field": "crizotinib", "type": "nominal", "scale": {"domain": ["−", "+"], "range": ["#ffffff", "#000000"]}, "legend": null}}},
                        {"mark": {"type": "text", "fontSize": 10, "dy": -7, "color": "#111"}, "encoding": {"y": {"field": "hi", "type": "quantitative"}, "text": {"field": "sig"}}}
                      ]
                    },
                    {
                      "width": 186, "height": 30,
                      "data": {"name": "bars"},
                      "encoding": {
                        "x": {"field": "cell", "type": "nominal", "scale": {"domain": ["A925LPE3", "#2"], "paddingInner": 0.2, "paddingOuter": 0.2}, "axis": null},
                        "xOffset": {"field": "cond", "type": "nominal", "scale": {"domain": ["SCR−", "SCR+", "EGFR−", "EGFR+"], "paddingInner": 0, "paddingOuter": 0}},
                        "y": {"datum": "Crizotinib", "type": "nominal", "scale": {"domain": ["Crizotinib", "si"], "paddingInner": 0, "paddingOuter": 0}, "axis": {"title": null, "domain": false, "ticks": false, "labelFontSize": 10, "labelPadding": 3, "labelColor": "#111", "labelOffset": -6, "labelExpr": "datum.value == 'si' ? '' : datum.value"}}
                      },
                      "layer": [
                        {"mark": {"type": "text", "fontSize": 11, "dy": -7, "color": "#111"}, "encoding": {"text": {"field": "crizotinib"}}},
                        {
                          "transform": [{"filter": "datum.crizotinib == '−'"}],
                          "mark": {"type": "rect", "fill": "#111", "width": 31, "height": 1.8, "xOffset": 8.5, "yOffset": -13},
                          "encoding": {"y": {"datum": "si", "type": "nominal"}}
                        },
                        {
                          "transform": [{"filter": "datum.crizotinib == '−'"}],
                          "mark": {"type": "text", "fontSize": 8, "dx": 8.5, "dy": -1.5, "color": "#111"},
                          "encoding": {"y": {"datum": "si", "type": "nominal"}, "text": {"field": "si"}}
                        }
                      ]
                    }
                  ]
                }
              ]
            }
          ]
        }
      ]
    }
  ]
}
